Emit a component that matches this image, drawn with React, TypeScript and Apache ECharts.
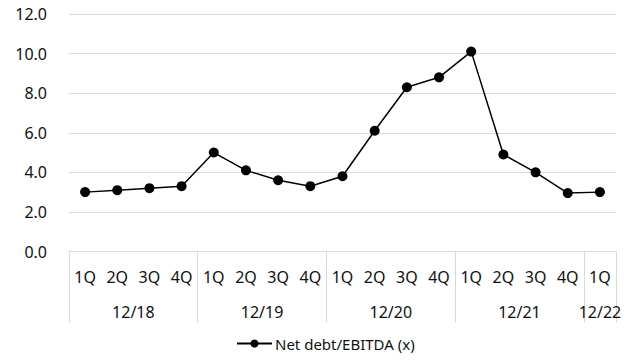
import React, { useEffect, useRef } from "react";
import * as echarts from "echarts";

const quarters = ["1Q","2Q","3Q","4Q","1Q","2Q","3Q","4Q","1Q","2Q","3Q","4Q","1Q","2Q","3Q","4Q","1Q"];
const values = [3.0, 3.1, 3.2, 3.3, 5.0, 4.1, 3.6, 3.3, 3.8, 6.1, 8.3, 8.8, 10.1, 4.9, 4.0, 2.95, 3.0];
const years = ["12/18", "12/19", "12/20", "12/21", "12/22"];
const groupSizes = [4, 4, 4, 4, 1];
const seriesName = "Net debt/EBITDA (x)";

const FONT = "'Noto Sans', sans-serif";
const TEXT = "#111";

export default function App() {
  const ref = useRef<HTMLDivElement>(null);
  useEffect(() => {
    if (!ref.current) return;
    const chart = echarts.init(ref.current, null, { renderer: "svg" });
    const bounds: number[] = [0];
    const centers: number[] = [];
    groupSizes.forEach((s) => {
      const start = bounds[bounds.length - 1];
      centers.push(start + s / 2);
      bounds.push(start + s);
    });
    const centerLabel: Record<string, string> = {};
    centers.forEach((c, i) => (centerLabel[String(c)] = years[i]));
    chart.setOption({
      animation: false,
      textStyle: { fontFamily: FONT },
      grid: { left: 69, right: 21, top: 14, bottom: 109.5, containLabel: false },
      legend: {
        bottom: 5,
        left: 231,
        itemWidth: 35,
        itemHeight: 10,
        itemGap: 4,
        textStyle: { fontFamily: FONT, fontSize: 15, color: TEXT, padding: [0, 0, 0, -2] },
        data: [seriesName],
      },
      xAxis: [
        {
          type: "category",
          data: quarters,
          boundaryGap: true,
          axisLine: { show: true, lineStyle: { color: "#d9d9d9", width: 1 } },
          axisTick: { show: false },
          axisLabel: { interval: 0, margin: 17, fontSize: 16, color: TEXT, fontFamily: FONT },
        },
        {
          type: "value",
          min: 0,
          max: quarters.length,
          position: "bottom",
          axisLine: { show: false },
          splitLine: { show: false },
          axisTick: {
            show: true,
            customValues: bounds,
            length: 71,
            lineStyle: { color: "#d9d9d9", width: 1 },
          },
          axisLabel: {
            show: true,
            customValues: centers,
            margin: 52,
            fontSize: 16,
            color: TEXT,
            fontFamily: FONT,
            formatter: (v: number) => centerLabel[String(v)] ?? "",
          },
        },
      ],
      yAxis: {
        type: "value",
        min: 0,
        max: 12,
        interval: 2,
        axisLine: { show: false },
        axisTick: { show: false },
        splitLine: { lineStyle: { color: "#d9d9d9", width: 1 } },
        axisLabel: {
          margin: 22,
          fontSize: 16,
          color: TEXT,
          fontFamily: FONT,
          formatter: (v: number) => v.toFixed(1),
        },
      },
      series: [
        {
          name: seriesName,
          type: "line",
          xAxisIndex: 0,
          data: values,
          symbol: "circle",
          symbolSize: 10,
          lineStyle: { color: "#000", width: 1.5 },
          itemStyle: { color: "#000" },
        },
      ],
    });
    return () => chart.dispose();
  }, []);
  return <div ref={ref} style={{ width: 637, height: 361, position: "absolute", left: 0, top: 0 }} />;
}
